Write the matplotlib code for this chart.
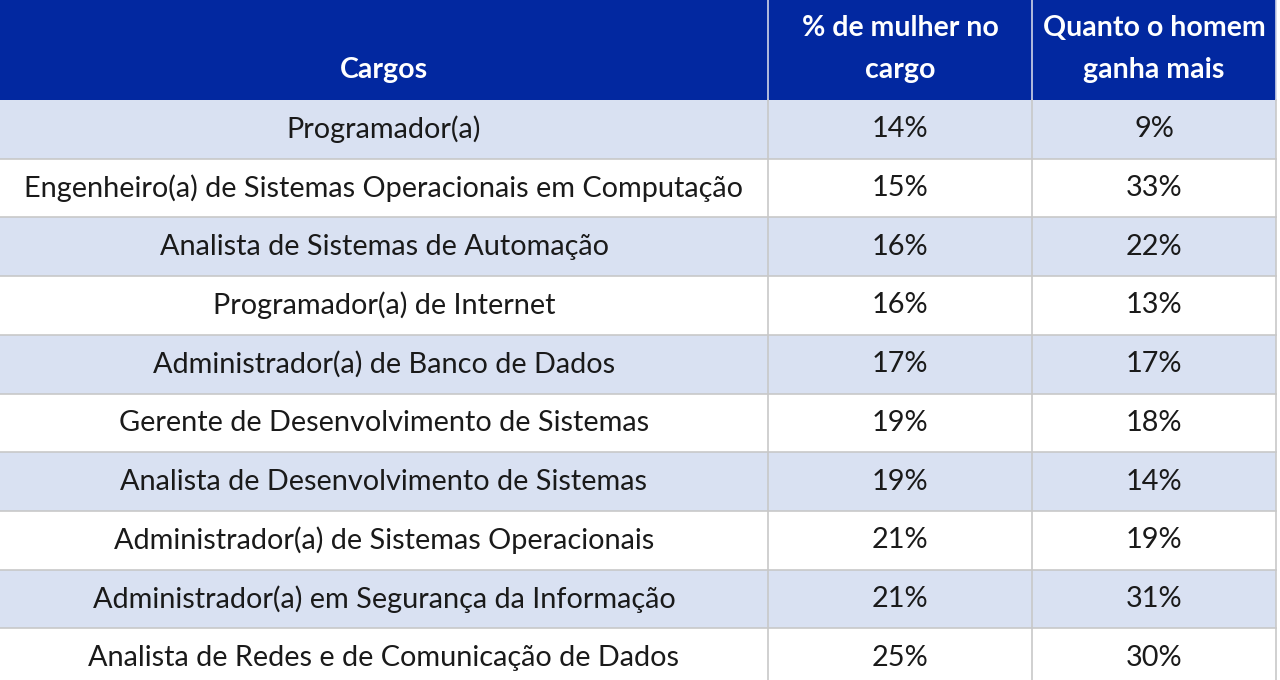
import matplotlib.pyplot as plt
from matplotlib.patches import Rectangle

plt.rcParams['font.family'] = ['Lato', 'DejaVu Sans']

# table content
headers = ["Cargos", "% de mulher no\ncargo", "Quanto o homem\nganha mais"]
cargos = [
    "Programador(a)",
    "Engenheiro(a) de Sistemas Operacionais em Computação",
    "Analista de Sistemas de Automação",
    "Programador(a) de Internet",
    "Administrador(a) de Banco de Dados",
    "Gerente de Desenvolvimento de Sistemas",
    "Analista de Desenvolvimento de Sistemas",
    "Administrador(a) de Sistemas Operacionais",
    "Administrador(a) em Segurança da Informação",
    "Analista de Redes e de Comunicação de Dados",
]
pct_mulher = [14, 15, 16, 16, 17, 19, 19, 21, 21, 25]
homem_ganha_mais = [9, 33, 22, 13, 17, 18, 14, 19, 31, 30]

# layout (pixels)
col_edges = [0, 768, 1032, 1276]
header_h = 100
row_h = 58.7
header_color = "#0228a0"
stripe_color = "#d9e1f2"
grid_color = "#c8c8c8"

fig = plt.figure(figsize=(12.8, 6.8), dpi=100)
ax = fig.add_axes([0, 0, 1, 1])
ax.set_xlim(0, 1280)
ax.set_ylim(680, 0)
ax.axis("off")

# header
ax.add_patch(Rectangle((0, 0), col_edges[-1], header_h, color=header_color, lw=0))
for i, h in enumerate(headers):
    cx = (col_edges[i] + col_edges[i + 1]) / 2
    ax.text(cx, header_h - 17, h, ha="center", va="bottom", color="white",
            fontsize=20.5, fontweight="bold", linespacing=1.75)

# body rows
for r, (c, p, h) in enumerate(zip(cargos, pct_mulher, homem_ganha_mais)):
    y0 = header_h + r * row_h
    fc = stripe_color if r % 2 == 0 else "white"
    ax.add_patch(Rectangle((0, y0), col_edges[-1], row_h, color=fc, lw=0))
    ax.plot([0, col_edges[-1]], [y0 + row_h, y0 + row_h], color=grid_color, lw=1.2)
    vals = [c, f"{p}%", f"{h}%"]
    for i, v in enumerate(vals):
        cx = (col_edges[i] + col_edges[i + 1]) / 2
        ax.text(cx, y0 + row_h / 2, v, ha="center", va="center",
                color="#1a1a1a", fontsize=20.8)

# vertical grid lines
y_end = header_h + len(cargos) * row_h
for x in col_edges[1:]:
    ax.plot([x, x], [0, header_h], color="#d0d4e8", lw=1.2)
    ax.plot([x, x], [header_h, y_end], color=grid_color, lw=1.2)

fig.savefig("out.png", dpi=100)
